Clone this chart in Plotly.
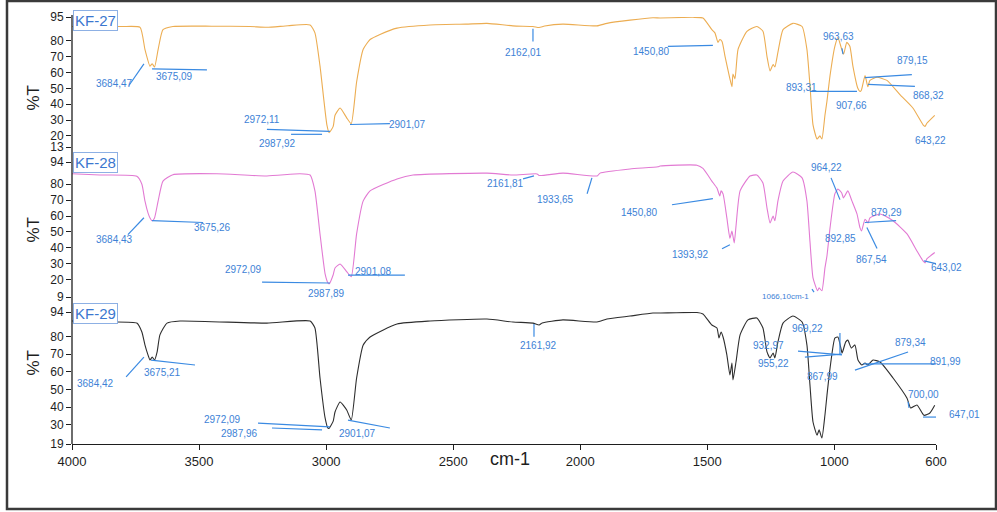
import plotly.graph_objects as go

# ---------------- spectra (wavenumber in cm-1, transmittance in %) ----------------
wn27 = [4000, 3900, 3800, 3732, 3713, 3693, 3684.47, 3675.09, 3661, 3642, 3603, 3450, 3300,
        3233, 3150, 3063, 3044, 3024, 2997, 2987.92, 2972.11, 2965, 2945, 2919, 2901.07, 2880,
        2854, 2827, 2788, 2721, 2591, 2450, 2367, 2265, 2186, 2162.01, 2140, 2068, 1934, 1895,
        1804, 1714, 1686, 1600, 1556, 1517, 1482, 1470, 1458, 1450.80, 1442, 1430, 1411, 1403,
        1399, 1391, 1379, 1344, 1305, 1281, 1265, 1253, 1241, 1234, 1222, 1202, 1163, 1127,
        1108, 1096, 1084, 1068, 1057, 1049, 1037, 1029, 1017, 998, 986, 971, 963.63, 951, 939,
        927, 907.66, 899, 893.31, 879.15, 868.32, 860, 832, 793, 742, 691, 651, 643.22, 636, 605]
t27 = [89, 89, 89, 88.5, 74.6, 64, 65.5, 63.5, 74.6, 87, 89, 89.2, 89,
       88.5, 89.5, 90, 85, 64, 27, 22, 26, 33, 37.6, 31.4, 27.7, 54,
       74.6, 80.8, 84, 88, 90, 90.5, 91, 89.4, 89, 88.4, 89.3, 90.5, 89.4, 91,
       93, 94.5, 94.4, 94.7, 94.8, 94.4, 87, 85, 79, 80.8, 79.6, 70, 56, 51,
       59, 56, 74.6, 86, 89, 86, 70, 61, 65, 63.5, 72.8, 87, 91, 89,
       74.6, 52, 27, 18, 20, 18, 33, 42, 58, 76.5, 82, 74.6, 71.5, 79, 76.5,
       64, 50, 48, 49, 58, 51, 55, 57, 55, 46, 37.6, 27, 26, 28, 33]

wn28 = [4000, 3890, 3745, 3725, 3713, 3701, 3693, 3684.43, 3675.26, 3661, 3642, 3603, 3430,
        3233, 3103, 3063, 3044, 3024, 3004, 2993, 2987.89, 2972.09, 2965, 2945, 2919, 2901.08,
        2880, 2854, 2827, 2721, 2658, 2367, 2265, 2170, 2161.81, 2068, 1933.65, 1922, 1804,
        1694, 1686, 1541, 1517, 1482, 1462, 1450.80, 1446, 1438, 1423, 1411, 1403, 1393.92,
        1387, 1371, 1332, 1305, 1281, 1265, 1253, 1241, 1234, 1222, 1202, 1163, 1127, 1108,
        1096, 1084, 1066.10, 1060, 1049, 1037, 1029, 1017, 998, 986, 971, 964.22, 947, 931,
        911, 899, 892.85, 879.29, 867.54, 860, 820, 769, 714, 675, 651, 643.02, 636, 605]
t28 = [86.6, 85.8, 85, 80, 69.5, 62, 58.8, 57, 58.8, 69.5, 82, 86, 86.6,
       85.2, 86.6, 85.8, 75.8, 48.7, 23.6, 18, 17.3, 23, 27.3, 29.8, 25, 21.7,
       48.7, 69.5, 75.8, 83.3, 85.8, 87, 85.8, 86.5, 85.5, 87, 85.2, 87, 89.6,
       91, 91.5, 92, 90, 82, 77.6, 72.6, 75.8, 73.9, 58.8, 46, 50.6, 43,
       53.7, 75.8, 85.2, 85.8, 80.8, 65, 55.6, 60, 57, 69.5, 82, 87.7, 84, 69.5,
       44, 21, 12.9, 14.8, 12.9, 27.3, 35, 52.5, 73.9, 77, 74.5, 71.4, 75.8, 69.5,
       61.3, 52.5, 50.6, 58, 55.6, 58.8, 61.3, 57, 48.7, 38, 31.7, 30.5, 33, 37]

wn29 = [4000, 3890, 3745, 3725, 3713, 3701, 3693, 3684.42, 3675.21, 3665, 3654, 3626, 3575,
        3233, 3063, 3044, 3024, 3004, 2993, 2987.96, 2972.09, 2965, 2945, 2919, 2901.07, 2880,
        2854, 2827, 2721, 2591, 2367, 2265, 2186, 2161.92, 2150, 2068, 1934, 1895, 1804, 1714,
        1686, 1541, 1517, 1482, 1462, 1454, 1446, 1438, 1423, 1411, 1403, 1399, 1387, 1371,
        1340, 1305, 1281, 1265, 1253, 1241, 1234, 1222, 1202, 1163, 1127, 1108, 1096, 1084,
        1068, 1060, 1049, 1037, 1029, 1017, 998, 986, 971, 969.22, 955.22, 947, 932.97, 919,
        907, 891.99, 879.34, 867.99, 848, 820, 769, 714, 700.00, 675, 647.01, 624, 605]
t29 = [88.9, 88.3, 87.7, 82.6, 75.3, 69.6, 66.7, 68.4, 66.7, 71.3, 81, 87.7, 88.9,
       87.7, 88.9, 84.9, 56.5, 33.8, 28, 28, 32, 37.2, 42.9, 38.3, 32.6, 56.5,
       75.3, 79.8, 87.2, 88.9, 90, 88.3, 87.7, 86.6, 87.8, 89.5, 88.3, 90, 91.7, 93.4,
       93.4, 93.7, 92.9, 86.6, 84.9, 79.2, 82.6, 79.8, 69.6, 58.2, 65, 55.4, 65.6, 81,
       89.5, 90.6, 84.9, 71.3, 67.9, 70.7, 67.9, 77, 87.7, 91.7, 88.3, 75.3, 52.5, 31.5,
       24, 27, 22.4, 35.5, 46.8, 62, 79.2, 79.8, 71.3, 70.7, 77, 78, 73.5, 75.3,
       66.7, 63.9, 65, 63.9, 66.7, 65.6, 56.5, 45, 39.5, 41.2, 35.3, 36.6, 41]

sample_names = ["KF-27", "KF-28", "KF-29"]
x_ticks = [4000, 3500, 3000, 2500, 2000, 1500, 1000, 600]
y_ticks27 = [13, 20, 30, 40, 50, 60, 70, 80, 95]
y_ticks28 = [9, 20, 30, 40, 50, 60, 70, 80, 94]
y_ticks29 = [19, 30, 40, 50, 60, 70, 80, 94]

# peak labels: (text, wavenumber, %T, xanchor)
peaks27 = [("3684,47", 3831, 53.1, "center"), ("3675,09", 3595, 57.4, "center"),
           ("2972,11", 3252, 30.3, "center"), ("2987,92", 3193, 15.2, "center"),
           ("2901,07", 2678, 27.2, "center"), ("2162,01", 2225, 72.8, "center"),
           ("1450,80", 1718, 73.4, "center"), ("963,63", 982, 82.7, "center"),
           ("893,31", 1131, 50.6, "center"), ("907,66", 931, 38.9, "center"),
           ("879,15", 691, 67.3, "center"), ("868,32", 628, 45.7, "center"),
           ("643,22", 620, 17.3, "center")]
peaks28 = [("3684,43", 3831, 45.3, "center"), ("3675,26", 3449, 52.8, "center"),
           ("2972,09", 3327, 26.5, "center"), ("2987,89", 2997, 11.5, "center"),
           ("2901,08", 2812, 25.3, "center"), ("2161,81", 2296, 80.3, "center"),
           ("1933,65", 2099, 70.3, "center"), ("1450,80", 1765, 62.1, "center"),
           ("1393,92", 1568, 35.9, "center"), ("964,22", 1029, 90.3, "center"),
           ("879,29", 793, 62.1, "center"), ("892,85", 974, 45.9, "center"),
           ("867,54", 852, 32.8, "center"), ("643,02", 628, 27.3, "left")]
peaks29 = [("3684,42", 3909, 53.1, "center"), ("3675,21", 3642, 59.9, "center"),
           ("2972,09", 3406, 33.2, "center"), ("2987,96", 3339, 24.7, "center"),
           ("2901,07", 2875, 24.7, "center"), ("2161,92", 2166, 74.7, "center"),
           ("969,22", 1104, 84.9, "center"), ("932,97", 1261, 74.7, "center"),
           ("955,22", 1241, 65.0, "center"), ("867,99", 1045, 57.1, "center"),
           ("879,34", 702, 76.4, "center"), ("891,99", 632, 65.6, "left"),
           ("700,00", 651, 47.4, "center"), ("647,01", 600, 35.5, "left")]

# leader lines: (wn0, T0, wn1, T1)
leaders27 = [(3776, 51.8, 3717, 65.4), (3685, 62.3, 3469, 61.7), (3233, 24.1, 2985, 22.9),
             (3138, 21.0, 3016, 21.0), (2906, 27.2, 2749, 27.8), (2186, 87.6, 2186, 79.6),
             (1655, 76.5, 1478, 77.1), (970, 75.3, 966, 71.6), (1096, 48.1, 911, 48.1),
             (880, 56.8, 695, 58.6), (868, 52.5, 683, 51.2)]
leaders28 = [(3780, 48.3, 3717, 58.9), (3685, 57.1, 3484, 55.9), (3252, 18.4, 2985, 17.8),
             (2914, 22.8, 2690, 22.8), (2225, 83.4, 2182, 85.3), (1973, 74.0, 1954, 84.0),
             (1639, 67.1, 1478, 70.9), (1442, 39.4, 1411, 41.9), (1088, 14.0, 1080, 12.1),
             (1013, 84.0, 978, 70.3), (880, 55.9, 757, 57.1), (872, 52.8, 832, 39.6),
             (647, 31.7, 600, 30.0)]
leaders29 = [(3787, 57.1, 3717, 68.4), (3689, 66.7, 3516, 63.9), (3268, 30.9, 2985, 28.7),
             (3213, 28.1, 3016, 27.0), (2914, 32.6, 2749, 28.1), (2182, 87.2, 2182, 80.0),
             (1143, 71.8, 970, 69.6), (1116, 68.4, 970, 70.1), (978, 82.1, 978, 70.1),
             (919, 61.0, 710, 71.3), (887, 64.5, 600, 64.5), (710, 42.9, 706, 39.5),
             (651, 34.3, 600, 34.3)]

# ---------------- figure ----------------
W, H = 997, 512
LABEL_BLUE = "#3d82d6"
LINE_BLUE = "#3a8ae2"
AXIS_COL = "#1e1e1e"
FONT = "Liberation Sans, Arial, sans-serif"


def px_x(p):
    return p / W


def px_y(p):
    return 1 - p / H


fig = go.Figure()
panels = [
    (wn27, t27, "y", "#ecad52", peaks27, leaders27),
    (wn28, t28, "y2", "#e27ad3", peaks28, leaders28),
    (wn29, t29, "y3", "#2e2e2e", peaks29, leaders29),
]
for name, (wn, t, yref, col, _, _) in zip(sample_names, panels):
    fig.add_trace(go.Scatter(x=wn, y=t, mode="lines", name=name, xaxis="x", yaxis=yref,
                             line=dict(color=col, width=1.1, shape="spline", smoothing=0.5),
                             hoverinfo="x+y"))

annotations = []
shapes = []
for (wn, t, yref, col, peaks, leaders) in panels:
    for text, px, py, anchor in peaks:
        annotations.append(dict(text=text, x=px, y=py, xref="x", yref=yref, showarrow=False,
                                xanchor=anchor, xshift=11 if px == 600 else 0,
                                font=dict(family=FONT, size=10, color=LABEL_BLUE)))
    for x0, y0, x1, y1 in leaders:
        shapes.append(dict(type="line", xref="x", yref=yref, x0=x0, y0=y0, x1=x1, y1=y1,
                           line=dict(color=LINE_BLUE, width=1.2)))

# small peak note in the KF-28 fingerprint region
annotations.append(dict(text="1066,10cm-1", x=1194, y=9.6, xref="x", yref="y2", showarrow=False,
                        font=dict(family=FONT, size=8, color=LABEL_BLUE)))

# sample name boxes
for name, top in zip(sample_names, [10, 152, 303]):
    annotations.append(dict(text=name, x=px_x(73), y=px_y(top), xref="paper", yref="paper",
                            xanchor="left", yanchor="top", showarrow=False,
                            bgcolor="white", bordercolor="#8db0e4", borderwidth=1, borderpad=1,
                            font=dict(family=FONT, size=15, color="#3b77cf")))

# %T titles for each panel
for yc in [83, 230, 378]:
    annotations.append(dict(text="%T", x=px_x(21), y=px_y(yc), xref="paper", yref="paper",
                            showarrow=False, textangle=-90,
                            font=dict(family=FONT, size=17, color=AXIS_COL)))

annotations.append(dict(text="cm-1", x=px_x(510), y=px_y(471), xref="paper", yref="paper",
                        showarrow=False, font=dict(family=FONT, size=18, color=AXIS_COL)))

# continuous left axis line and page frame
shapes.append(dict(type="line", xref="paper", yref="paper", x0=px_x(72), x1=px_x(72),
                   y0=px_y(15), y1=px_y(444), line=dict(color=AXIS_COL, width=1.3)))
shapes.append(dict(type="rect", xref="paper", yref="paper", x0=px_x(7), x1=px_x(996),
                   y0=px_y(509), y1=px_y(1), line=dict(color="#3a3a3a", width=2.5)))

yaxis_common = dict(showgrid=False, zeroline=False, showline=False, ticks="outside",
                    ticklen=5, tickwidth=1, tickcolor=AXIS_COL, automargin=False,
                    tickfont=dict(family=FONT, size=12, color=AXIS_COL), anchor="x")

fig.update_layout(
    width=W, height=H, margin=dict(l=0, r=0, t=0, b=0, pad=0, autoexpand=False),
    paper_bgcolor="white", plot_bgcolor="white", showlegend=False,
    xaxis=dict(domain=[px_x(72), px_x(936)], range=[4000, 600], anchor="y3", automargin=False,
               tickvals=x_ticks, ticktext=[str(v) for v in x_ticks],
               showgrid=False, zeroline=False, showline=True, linecolor=AXIS_COL, linewidth=1.3,
               ticks="outside", ticklen=5, tickcolor=AXIS_COL,
               tickfont=dict(family=FONT, size=13, color=AXIS_COL)),
    yaxis=dict(domain=[px_y(147), px_y(17)], range=[13, 95], tickvals=y_ticks27, **yaxis_common),
    yaxis2=dict(domain=[px_y(297), px_y(162)], range=[9, 94], tickvals=y_ticks28, **yaxis_common),
    yaxis3=dict(domain=[px_y(444), px_y(312)], range=[19, 94], tickvals=y_ticks29, **yaxis_common),
    annotations=annotations,
    shapes=shapes,
)

fig.write_html("out.html")
